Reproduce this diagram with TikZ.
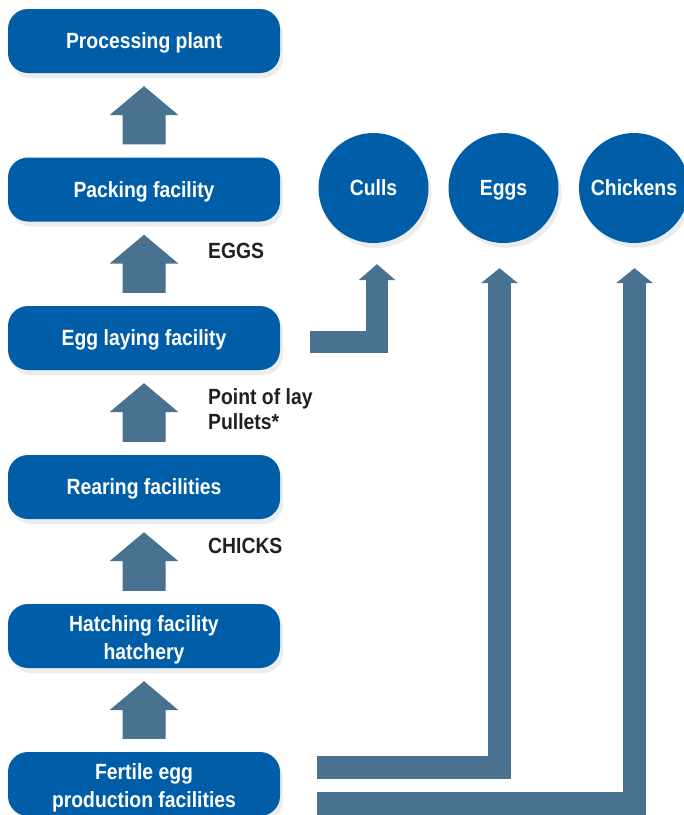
\documentclass[tikz,border=0pt]{standalone}
\usepackage{fontspec}
\setmainfont{Liberation Sans}[FakeStretch=0.88]
\usetikzlibrary{calc,shadows}

\definecolor{boxblue}{RGB}{0,94,168}
\definecolor{flowcol}{RGB}{72,114,144}
\definecolor{lblcol}{RGB}{35,31,32}

\tikzset{
	box/.style={rectangle, rounded corners=20pt, fill=boxblue, text=white,
		minimum width=272pt, minimum height=64pt, inner sep=0pt, align=center,
		text height=20.5pt, text depth=4.6pt,
		font=\bfseries\fontsize{22}{28}\selectfont,
		drop shadow={opacity=0.15, shadow xshift=3pt, shadow yshift=-5pt}},
	twoline/.style={text height=50.6pt, text depth=4.6pt},
	ring/.style={circle, fill=boxblue, text=white, minimum size=110pt, inner sep=0pt,
		text height=20.5pt, text depth=4.6pt,
		font=\bfseries\fontsize{22}{28}\selectfont,
		drop shadow={opacity=0.15, shadow xshift=3pt, shadow yshift=-5pt}},
	lbl/.style={anchor=west, inner sep=0pt, align=left, text=lblcol,
		font=\bfseries\fontsize{22}{25}\selectfont},
	flowline/.style={draw=flowcol, line join=miter, line cap=butt}
}

% block arrow from the top of node #1 up to the bottom of node #2
\newcommand{\blockup}[2]{%
	\fill[flowcol] ($(#1.north)+(-21.5,-13)$) -- ($(#2.south)+(-21.5,42)$)
		-- ($(#2.south)+(-34.5,42)$) -- ($(#2.south)+(0,13)$)
		-- ($(#2.south)+(34.5,42)$) -- ($(#2.south)+(21.5,42)$)
		-- ($(#1.north)+(21.5,-13)$) -- cycle;}

\begin{document}
\begin{tikzpicture}[x=1pt,y=-1pt]
	\useasboundingbox (0,0) rectangle (684,815);
	
	\node[box] (proc) at (144,41) {Processing plant};
	\node[box] (pack) at (144,189.5) {Packing facility};
	\node[box] (lay) at (144,338) {Egg laying facility};
	\node[box] (rear) at (144,487) {Rearing facilities};
	\node[box, twoline] (hatch) at (144,636) {Hatching facility\\hatchery};
	\node[box, twoline] (fert) at (144,784) {Fertile egg\\production facilities};
	
	\node[ring] (culls) at (373.5,188) {Culls};
	\node[ring] (eggs) at (503.5,188) {Eggs};
	\node[ring] (chick) at (634,188) {Chickens};
	
	\blockup{pack}{proc}
	\blockup{lay}{pack}
	\blockup{rear}{lay}
	\blockup{hatch}{rear}
	\blockup{fert}{hatch}
	
	\node[lbl] (eggslbl) at (208,251) {EGGS};
	\node[lbl] (pulletlbl) at (208,409.5) {Point of lay\\Pullets*};
	\node[lbl] (chickslbl) at (208,546) {CHICKS};
	
	\coordinate (cullstip) at ($(culls.south)+(3.5,21)$);
	\coordinate (eggstip) at ($(eggs.south)+(-4,25)$);
	\coordinate (chicktip) at ($(chick.south)+(0.5,25)$);
	
	\draw[flowline, line width=22pt] ($(lay.east)+(30,4)$) -| ($(cullstip)+(0,15)$);
	\fill[flowcol] (cullstip) -- ++(-18.5,16) -- ++(37,0) -- cycle;
	
	\draw[flowline, line width=23pt] ($(fert.east)+(37,-16.5)$) -| ($(eggstip)+(0,14)$);
	\fill[flowcol] (eggstip) -- ++(-18.5,15) -- ++(37,0) -- cycle;
	
	\draw[flowline, line width=23pt] ($(fert.east)+(37,19.5)$) -| ($(chicktip)+(0,14)$);
	\fill[flowcol] (chicktip) -- ++(-18.5,15) -- ++(37,0) -- cycle;
\end{tikzpicture}
\end{document}
